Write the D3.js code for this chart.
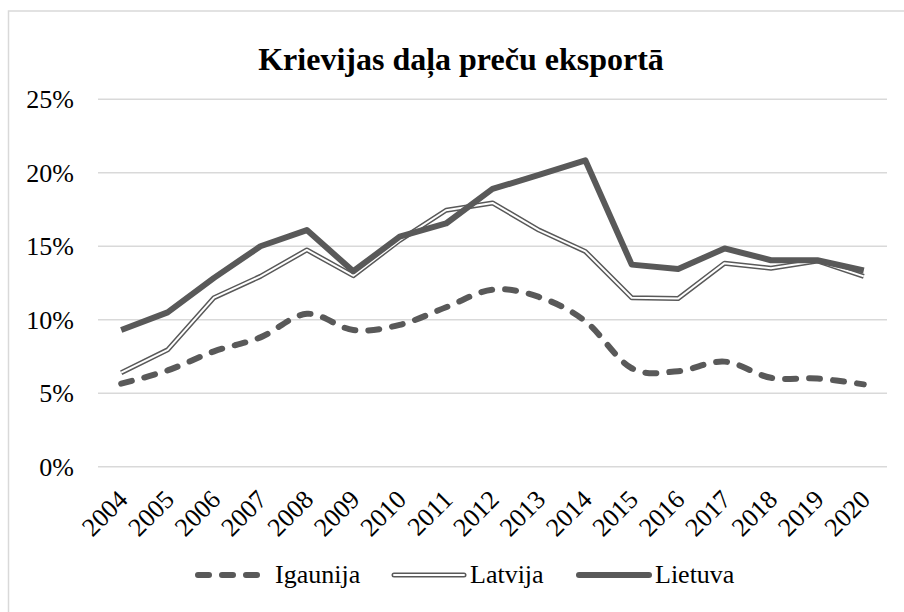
<!DOCTYPE html>
<html>
<head>
<meta charset="utf-8">
<script src="https://cdn.jsdelivr.net/npm/d3@7"></script>
<style>
  html, body { margin: 0; padding: 0; background: #fff; }
  svg { display: block; }
</style>
</head>
<body>
<svg id="chart" width="904" height="612"></svg>
<script>
const title = "Krievijas daļa preču eksportā";
const years = ["2004","2005","2006","2007","2008","2009","2010","2011","2012","2013","2014","2015","2016","2017","2018","2019","2020"];
const igaunija = [5.65, 6.55, 7.85, 8.8, 10.4, 9.3, 9.65, 10.85, 12.05, 11.55, 9.9, 6.7, 6.5, 7.15, 6.05, 6.0, 5.6];
const latvija  = [6.4, 7.95, 11.5, 12.95, 14.75, 13.0, 15.4, 17.45, 17.95, 16.1, 14.65, 11.5, 11.45, 13.85, 13.5, 14.0, 12.95];
const lietuva  = [9.3, 10.5, 12.85, 15.0, 16.1, 13.3, 15.65, 16.55, 18.9, 19.85, 20.85, 13.75, 13.45, 14.85, 14.05, 14.05, 13.35];
const yTicks = [0, 5, 10, 15, 20, 25];
const seriesNames = ["Igaunija", "Latvija", "Lietuva"];

const FONT = "'Liberation Serif', 'Times New Roman', Tinos, 'DejaVu Serif', serif";
const svg = d3.select("#chart").attr("font-family", FONT);
const lineColor = "#595959";

// outer frame
svg.append("rect").attr("x", 8.5).attr("y", 11).attr("width", 904).attr("height", 612)
  .attr("fill", "#fff").attr("stroke", "#d9d9d9").attr("stroke-width", 1.5);

const x = d3.scalePoint().domain(years).range([98, 887]).padding(0.5);
const y = d3.scaleLinear().domain([0, 25]).range([466.7, 99.3]);

// title
svg.append("text").attr("x", 461).attr("y", 70).attr("text-anchor", "middle")
  .style("font-family", FONT).style("font-size", "32px").style("font-weight", "bold").text(title);

// gridlines
svg.append("g").selectAll("line").data(yTicks).join("line")
  .attr("x1", 98).attr("x2", 887)
  .attr("y1", d => y(d)).attr("y2", d => y(d))
  .attr("stroke", "#d9d9d9").attr("stroke-width", 1.5);

// y axis labels
const yAxis = d3.axisLeft(y).tickValues(yTicks).tickSize(0).tickPadding(0).tickFormat(d => d + "%");
const gy = svg.append("g").attr("transform", "translate(74,0)").call(yAxis).attr("font-family", FONT);
gy.select(".domain").remove();
gy.selectAll("text").style("font-family", FONT).style("font-size", "26px").attr("fill", "#000")
  .attr("dy", "0.32em").attr("x", 0);

// x axis labels
const xAxis = d3.axisBottom(x).tickSize(0).tickPadding(0);
const gx = svg.append("g").call(xAxis).attr("font-family", FONT);
gx.select(".domain").remove();
gx.selectAll(".tick").attr("transform", d => `translate(${x(d) + 8},501)`);
gx.selectAll("text").style("font-family", FONT).style("font-size", "26px").attr("fill", "#000")
  .attr("y", 0).attr("dy", 0).attr("text-anchor", "end").attr("transform", "rotate(-45)");

const pts = arr => arr.map((v, i) => [x(years[i]), y(v)]);
const straight = d3.line();
const smooth = d3.line().curve(d3.curveCardinal.tension(0));

// Igaunija dashed smooth
svg.append("path").attr("d", smooth(pts(igaunija))).attr("fill", "none")
  .attr("stroke", lineColor).attr("stroke-width", 6).attr("stroke-linecap", "round")
  .attr("stroke-dasharray", "11,13");

// Latvija double line
svg.append("path").attr("d", straight(pts(latvija))).attr("fill", "none")
  .attr("stroke", lineColor).attr("stroke-width", 5).attr("stroke-linejoin", "round");
svg.append("path").attr("d", straight(pts(latvija))).attr("fill", "none")
  .attr("stroke", "#fff").attr("stroke-width", 2).attr("stroke-linejoin", "round");

// Lietuva thick
svg.append("path").attr("d", straight(pts(lietuva))).attr("fill", "none")
  .attr("stroke", lineColor).attr("stroke-width", 6).attr("stroke-linejoin", "round");

// legend
const legendY = 575;
const legend = svg.append("g");
const items = [
  {name: seriesNames[0], x0: 198, tx: 275},
  {name: seriesNames[1], x0: 394, tx: 470},
  {name: seriesNames[2], x0: 579, tx: 655}
];
items.forEach((it, i) => {
  const g = legend.append("g");
  if (i === 0) {
    g.append("line").attr("x1", it.x0).attr("x2", it.x0 + 66).attr("y1", legendY).attr("y2", legendY)
      .attr("stroke", lineColor).attr("stroke-width", 6).attr("stroke-linecap", "round").attr("stroke-dasharray", "11,13");
  } else if (i === 1) {
    g.append("line").attr("x1", it.x0).attr("x2", it.x0 + 70).attr("y1", legendY).attr("y2", legendY)
      .attr("stroke", lineColor).attr("stroke-width", 5).attr("stroke-linecap", "round");
    g.append("line").attr("x1", it.x0).attr("x2", it.x0 + 70).attr("y1", legendY).attr("y2", legendY)
      .attr("stroke", "#fff").attr("stroke-width", 2).attr("stroke-linecap", "round");
  } else {
    g.append("line").attr("x1", it.x0).attr("x2", it.x0 + 70).attr("y1", legendY).attr("y2", legendY)
      .attr("stroke", lineColor).attr("stroke-width", 6).attr("stroke-linecap", "round");
  }
  g.append("text").attr("x", it.tx).attr("y", legendY + 8)
    .style("font-family", FONT).style("font-size", "26px").attr("fill", "#000").text(it.name);
});
</script>
</body>
</html>
